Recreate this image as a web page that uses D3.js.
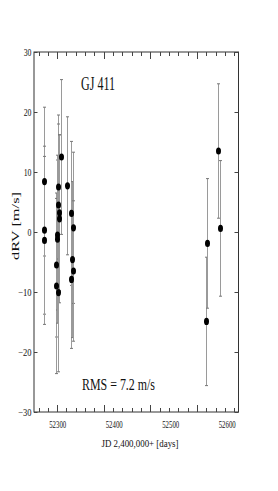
<!DOCTYPE html>
<html>
<head>
<meta charset="utf-8">
<script src="https://cdn.jsdelivr.net/npm/d3@7"></script>
<style>
html,body{margin:0;padding:0;background:#fff;}
svg{display:block;}
text{font-family:"Liberation Serif","DejaVu Serif",serif;fill:#111;}
</style>
</head>
<body>
<script>
// ---- data ----
const dates  = [52276,52276,52276,52296.5,52297,52299,52299,52300.5,52300,52302,52302,52301,52305,52317,52323,52324,52326,52327,52327,52562,52564,52583.5,52586.5];
const dRV    = [8.4,0.3,-1.4,-5.5,-9.0,-0.5,-1.2,7.5,4.5,3.2,2.2,-10.1,12.5,7.7,3.1,-7.9,-4.6,0.7,-6.5,-14.9,-1.9,13.5,0.6];
const errRV  = [12.4,14.0,14.0,12.0,14.6,12.5,14.0,12.0,13.5,13.0,14.0,13.2,12.9,11.5,12.0,11.5,13.0,12.6,11.7,10.7,10.8,11.2,11.3];
const xTickLabels = [52300,52400,52500,52600];
const yTickLabels = [30,20,10,0,-10,-20,-30];
const xMinorStart = 52266, xMinorStep = 16.5, xMajorEvery = 5;
const xDomain = [52258,52620];
const yDomain = [-30,30];
const title = "GJ 411";
const rmsText = "RMS = 7.2 m/s";
const xTitle = "JD 2,400,000+ [days]";
const yTitle = "dRV  [m/s]";

const W = 278, H = 491;
const L = 34, R = 238.5, T = 52, B = 412;

const svg = d3.select("body").append("svg").attr("width",W).attr("height",H);
const x = d3.scaleLinear().domain(xDomain).range([L,R]);
const y = d3.scaleLinear().domain(yDomain).range([B,T]);

// error bars
const eb = svg.append("g").attr("stroke","#9a9a9a").attr("stroke-width",1);
dates.forEach((d,i)=>{
  const cx = Math.round(x(d))+0.5;
  eb.append("line").attr("x1",cx).attr("x2",cx).attr("y1",y(dRV[i]+errRV[i])).attr("y2",y(dRV[i]-errRV[i]));
  [dRV[i]+errRV[i], dRV[i]-errRV[i]].forEach(v=>{
    eb.append("line").attr("x1",cx-1.5).attr("x2",cx+1.5).attr("y1",y(v)).attr("y2",y(v)).attr("stroke","#777");
  });
});

// points
svg.append("g").selectAll("ellipse").data(dates).join("ellipse")
  .attr("cx",(d)=>Math.round(x(d))+0.5).attr("cy",(d,i)=>y(dRV[i]))
  .attr("rx",2.5).attr("ry",3.6).attr("fill","#000");

// frame
svg.append("rect").attr("x",L).attr("y",T).attr("width",R-L).attr("height",B-T)
  .attr("fill","none").attr("stroke","#333").attr("stroke-width",1);

// x ticks (bottom and top)
const xt = svg.append("g").attr("stroke","#444").attr("stroke-width",1);
d3.range(xMinorStart, xDomain[1], xMinorStep).forEach((v,k)=>{
  const px = Math.round(x(v))+0.5;
  const len = (k % xMajorEvery === 2) ? 7 : 4;
  xt.append("line").attr("x1",px).attr("x2",px).attr("y1",B).attr("y2",B-len);
  xt.append("line").attr("x1",px).attr("x2",px).attr("y1",T).attr("y2",T+len);
});
svg.append("g").selectAll("text").data(xTickLabels).join("text")
  .attr("x",d=>x(d)).attr("y",428).attr("text-anchor","middle")
  .attr("font-size",10).attr("textLength",17).attr("lengthAdjust","spacingAndGlyphs")
  .text(d=>d);

// y ticks (left and right)
const yt = svg.append("g").attr("stroke","#444").attr("stroke-width",1);
yTickLabels.forEach(v=>{
  const py = Math.round(y(v))+0.5;
  yt.append("line").attr("x1",L).attr("x2",L+3.5).attr("y1",py).attr("y2",py);
  yt.append("line").attr("x1",R).attr("x2",R-4).attr("y1",py).attr("y2",py);
});
svg.append("g").selectAll("text").data(yTickLabels).join("text")
  .attr("x",31.5).attr("y",d=>y(d)+3.6).attr("text-anchor","end")
  .attr("font-size",10)
  .attr("textLength",d=>String(Math.abs(d)).length*3.9 + (d<0?5.5:0))
  .attr("lengthAdjust","spacingAndGlyphs")
  .text(d=>d<0 ? "\u2212"+Math.abs(d) : d);

// titles / annotations
svg.append("text").attr("x",81).attr("y",90).attr("font-size",18)
  .attr("textLength",34).attr("lengthAdjust","spacingAndGlyphs").text(title);
svg.append("text").attr("x",82).attr("y",390).attr("font-size",16)
  .attr("textLength",73).attr("lengthAdjust","spacingAndGlyphs").text(rmsText);
svg.append("text").attr("x",140).attr("y",447).attr("text-anchor","middle").attr("font-size",10)
  .attr("textLength",77).attr("lengthAdjust","spacingAndGlyphs").text(xTitle);
svg.append("text").attr("transform","translate(18.5,226) rotate(-90)").attr("text-anchor","middle")
  .attr("font-size",10).attr("textLength",68).attr("lengthAdjust","spacingAndGlyphs").text(yTitle);
</script>
</body>
</html>
